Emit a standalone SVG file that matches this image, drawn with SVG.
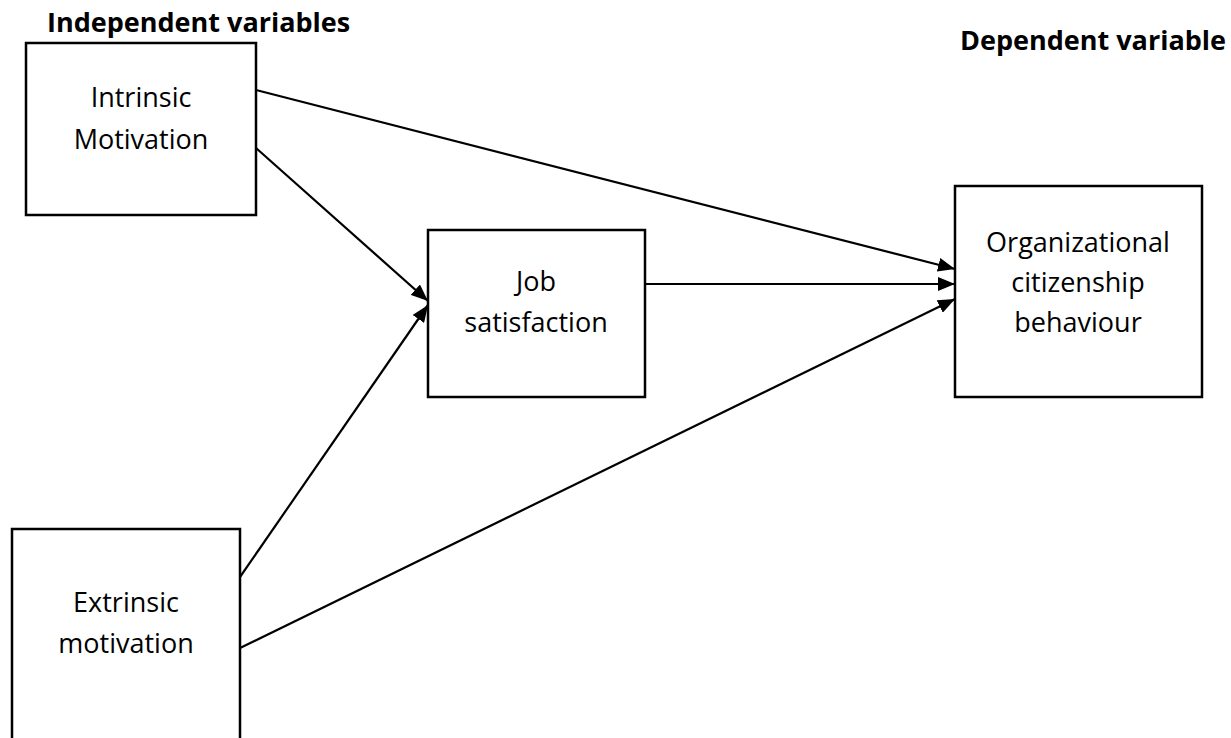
<svg xmlns="http://www.w3.org/2000/svg" width="1231" height="738" viewBox="0 0 1231 738">
<style>
.box{fill:#fff;stroke:#000;stroke-width:2.5}
.t{font-family:"Open Sans","Noto Sans",sans-serif;font-size:27px;fill:#000;text-anchor:middle}
.h{font-family:"Open Sans","Noto Sans",sans-serif;font-size:27px;font-weight:bold;fill:#000}
.c{stroke:#000;stroke-width:2.2;fill:none;marker-end:url(#ah)}
</style>
<defs>
<marker id="ah" markerUnits="userSpaceOnUse" markerWidth="18" markerHeight="14" refX="17" refY="7" orient="auto">
<path d="M0,0 L17,7 L0,14 Z" fill="#000"/>
</marker>
</defs>
<rect width="1231" height="738" fill="#fff"/>
<text class="h" x="47" y="32">Independent variables</text>
<text class="h" x="960" y="50">Dependent variable</text>
<g id="connectors">
<line class="c" x1="256" y1="90" x2="955" y2="269"/>
<line class="c" x1="256" y1="148" x2="428" y2="301"/>
<line class="c" x1="240" y1="577" x2="428" y2="305"/>
<line class="c" x1="240" y1="648" x2="955" y2="299"/>
<line class="c" x1="645" y1="284" x2="955" y2="284"/>
</g>
<g id="intrinsic">
<rect class="box" x="26" y="43" width="230" height="172"/>
<text class="t" x="141" y="107">Intrinsic</text>
<text class="t" x="141" y="149">Motivation</text>
</g>
<g id="job">
<rect class="box" x="428" y="230" width="217" height="167"/>
<text class="t" x="536" y="291">Job</text>
<text class="t" x="536" y="332">satisfaction</text>
</g>
<g id="ocb">
<rect class="box" x="955" y="186" width="247" height="211"/>
<text class="t" x="1078" y="252">Organizational</text>
<text class="t" x="1078" y="292">citizenship</text>
<text class="t" x="1078" y="332">behaviour</text>
</g>
<g id="extrinsic">
<rect class="box" x="12" y="529" width="228" height="220"/>
<text class="t" x="126" y="612">Extrinsic</text>
<text class="t" x="126" y="653">motivation</text>
</g>
</svg>
